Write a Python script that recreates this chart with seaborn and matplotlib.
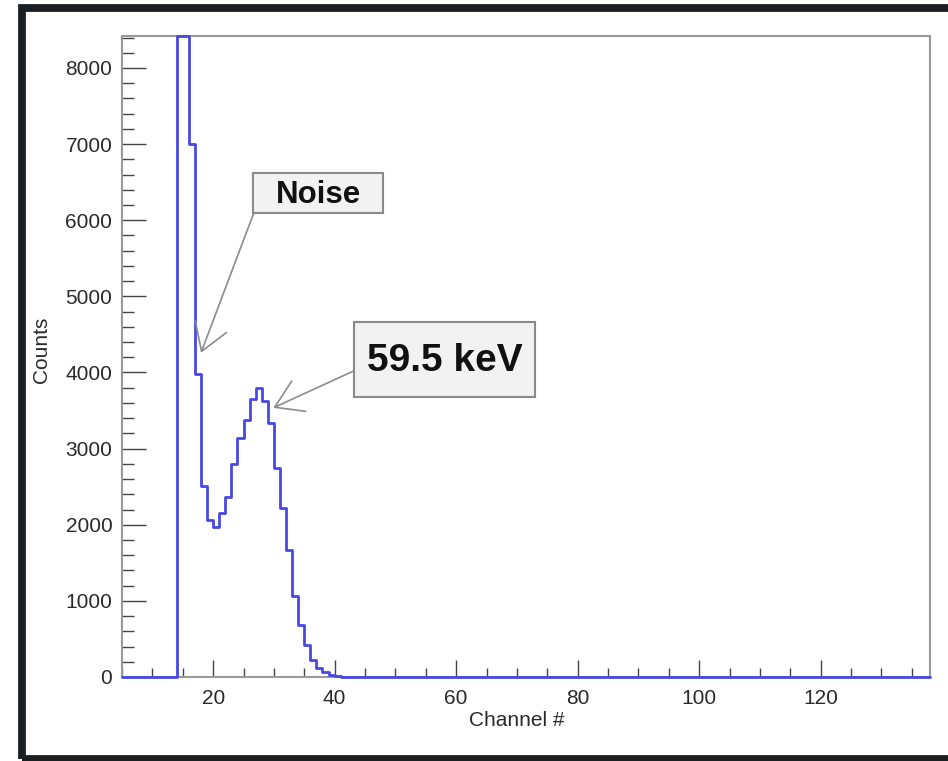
import numpy as np
import pandas as pd
import matplotlib
matplotlib.use("Agg")
import matplotlib.pyplot as plt
from matplotlib.patches import Rectangle
from matplotlib.ticker import MultipleLocator
import seaborn as sns

# channel range of the histogram (1 channel per bin)
first_channel = 5
last_channel = 138

# non-zero part of the spectrum, starting at channel 14
peak_start = 14
peak_counts = [12000, 9800, 7000, 3980, 2510, 2060, 1970, 2150, 2370, 2800,
               3140, 3370, 3650, 3800, 3620, 3340, 2750, 2220, 1670, 1060,
               680, 420, 220, 120, 60, 25, 10, 4]

x_ticks = [20, 40, 60, 80, 100, 120]
y_ticks = [0, 1000, 2000, 3000, 4000, 5000, 6000, 7000, 8000]

x_min, x_max = 5, 138
y_max = 8420

channels = np.arange(first_channel, last_channel)
counts = np.zeros(len(channels))
counts[peak_start - first_channel:peak_start - first_channel + len(peak_counts)] = peak_counts
# ROOT draws the bins that go off the frame flat along the top
df = pd.DataFrame({'channel': channels + 0.5, 'counts': np.minimum(counts, y_max)})

sns.set_style("white")
plt.rcParams['font.family'] = ['Liberation Sans', 'DejaVu Sans']

fig = plt.figure(figsize=(9.48, 7.61), dpi=100)
ax = fig.add_axes([0.1287, 0.1104, 0.8523, 0.8423])

sns.histplot(data=df, x='channel', weights='counts',
             binwidth=1, binrange=(first_channel, last_channel),
             element="step", fill=False, color="#4848e2", linewidth=2.0, ax=ax)
# histogram line sits on top of the frame, like ROOT draws it
for ln in ax.lines:
    ln.set_zorder(3)
    ln.set_clip_on(False)

ax.set_xlim(x_min, x_max)
ax.set_ylim(0, y_max)
ax.set_xticks(x_ticks)
ax.set_yticks(y_ticks)
ax.xaxis.set_minor_locator(MultipleLocator(5))
ax.yaxis.set_minor_locator(MultipleLocator(200))
ax.tick_params(axis='both', which='both', direction='in', colors='#444444',
               labelcolor='#2a2a2a', labelsize=15, width=1)
ax.tick_params(axis='y', which='major', length=17, pad=7)
ax.tick_params(axis='y', which='minor', length=8.5)
ax.tick_params(axis='x', which='major', length=12, pad=9)
ax.tick_params(axis='x', which='minor', length=6.5)
ax.tick_params(left=True, bottom=True, which='both')

for s in ax.spines.values():
    s.set_color('#999999')
    s.set_linewidth(1.5)

ax.set_xlabel('Channel #', fontsize=15, color='#2a2a2a')
ax.set_ylabel('Counts', fontsize=15, color='#2a2a2a')
ax.xaxis.set_label_coords(0.489, -0.053)
ax.yaxis.set_label_coords(-0.088, 0.51)

# label boxes
box_style = dict(facecolor='#f2f2f2', edgecolor='#8a8a8a', linewidth=1.5, zorder=5)
ax.add_patch(Rectangle((26.6, 6097), 21.4, 526, **box_style))
ax.text(37.3, 6335, 'Noise', fontsize=22.5, fontweight='bold', ha='center', va='center',
        color='#111111', zorder=6)
ax.add_patch(Rectangle((43.2, 3679), 29.7, 986, **box_style))
ax.text(58.1, 4150, '59.5 keV', fontsize=28, fontweight='bold', ha='center', va='center',
        color='#111111', zorder=6)

arrow = dict(arrowstyle='->,head_length=1.9,head_width=1.2', color='#8c8c8c',
             lw=1.2, mutation_scale=10, shrinkA=0, shrinkB=0)
ax.annotate('', xy=(18.0, 4258), xytext=(26.7, 6097), arrowprops=arrow, zorder=4)
ax.annotate('', xy=(29.9, 3535), xytext=(43.4, 4030), arrowprops=arrow, zorder=4)

# dark frame around the picture
fig.patches.append(Rectangle((0.0227, 0.0026), 1.2, 0.9875, transform=fig.transFigure,
                             fill=False, edgecolor='#1c1f22', linewidth=5.6))

fig.savefig('out.png', dpi=100)
